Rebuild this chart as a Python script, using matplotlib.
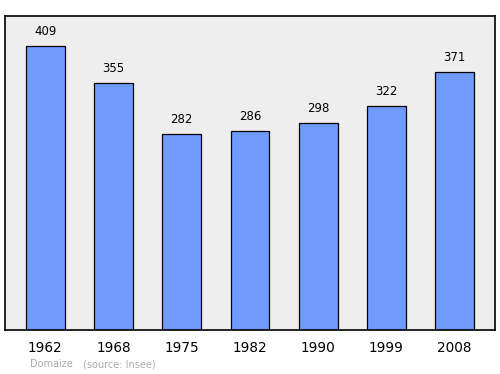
import numpy as np
import matplotlib
matplotlib.use("Agg")
from matplotlib import pyplot as plt

years = ['1962', '1968', '1975', '1982', '1990', '1999', '2008']
population = [409, 355, 282, 286, 298, 322, 371]

fig = plt.figure(figsize=(5, 3.74), dpi=100)
ax = fig.add_axes([0.01, 0.1176, 0.98, 0.8396])
ax.set_facecolor('#eeeeee')

x = np.arange(len(years))
ax.bar(x, population, width=0.57, color='#6f9bff', edgecolor='black', linewidth=0.9, zorder=2)

for xi, v in zip(x, population):
    ax.text(xi, v + 12, str(v), ha='center', va='bottom', fontsize=8.5, color='black')

ax.set_xlim(-0.59, 6.59)
ax.set_ylim(0, 452)
ax.set_xticks(x)
ax.set_xticklabels(years, fontsize=9.8)
ax.tick_params(axis='x', length=0, pad=8)
ax.set_yticks([])
for s in ax.spines.values():
    s.set_linewidth(1.2)

fig.text(0.06, 0.018, 'Domaize', fontsize=7, color='#aaaaaa')
fig.text(0.166, 0.018, '(source: Insee)', fontsize=7, color='#aaaaaa')

fig.savefig('out.png', dpi=100)
